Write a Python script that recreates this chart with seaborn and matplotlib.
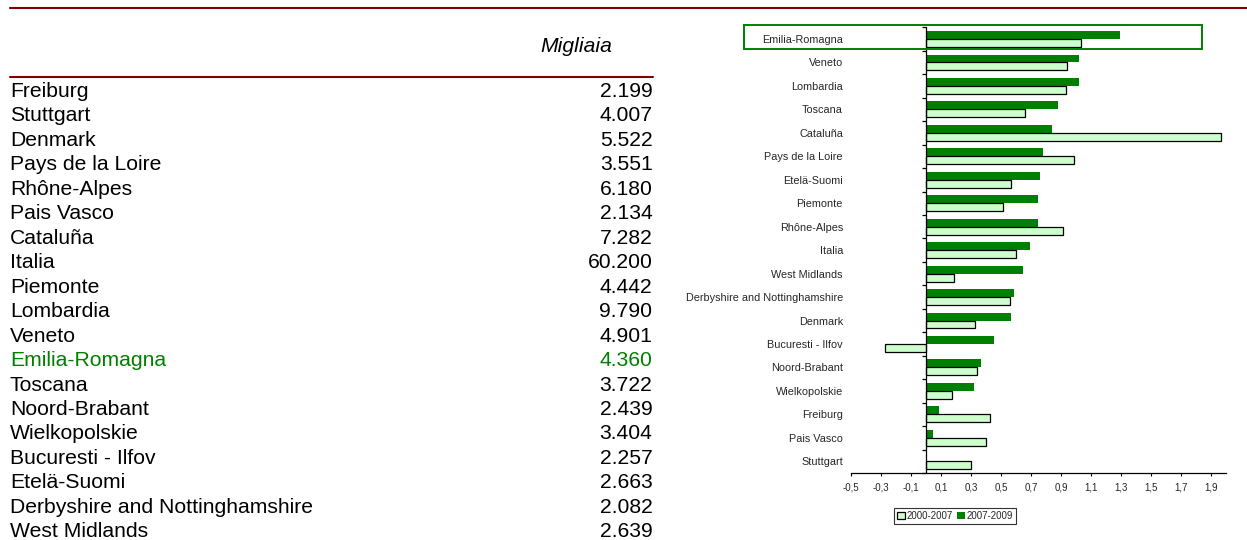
import numpy as np
import pandas as pd
import matplotlib
matplotlib.use("Agg")
import matplotlib.pyplot as plt
from matplotlib import transforms
from matplotlib.lines import Line2D
from matplotlib.patches import Rectangle
import seaborn as sns

# ---- table: population (thousands) ----
table_regions = [
    "Freiburg", "Stuttgart", "Denmark", "Pays de la Loire", "Rhône-Alpes",
    "Pais Vasco", "Cataluña", "Italia", "Piemonte", "Lombardia", "Veneto",
    "Emilia-Romagna", "Toscana", "Noord-Brabant", "Wielkopolskie",
    "Bucuresti - Ilfov", "Etelä-Suomi", "Derbyshire and Nottinghamshire",
    "West Midlands",
]
table_values = [2199, 4007, 5522, 3551, 6180, 2134, 7282, 60200, 4442, 9790,
                4901, 4360, 3722, 2439, 3404, 2257, 2663, 2082, 2639]
table_header = "Migliaia"
highlight = "Emilia-Romagna"

# ---- bar chart: average annual growth ----
chart_regions = [
    "Emilia-Romagna", "Veneto", "Lombardia", "Toscana", "Cataluña",
    "Pays de la Loire", "Etelä-Suomi", "Piemonte", "Rhône-Alpes", "Italia",
    "West Midlands", "Derbyshire and Nottinghamshire", "Denmark",
    "Bucuresti - Ilfov", "Noord-Brabant", "Wielkopolskie", "Freiburg",
    "Pais Vasco", "Stuttgart",
]
growth_2007_2009 = [1.29, 1.02, 1.02, 0.88, 0.84, 0.78, 0.76, 0.745, 0.745,
                    0.695, 0.65, 0.585, 0.57, 0.455, 0.365, 0.32, 0.09, 0.05, 0.01]
growth_2000_2007 = [1.03, 0.94, 0.935, 0.66, 1.965, 0.985, 0.57, 0.515, 0.915,
                    0.60, 0.185, 0.56, 0.325, -0.27, 0.34, 0.175, 0.43, 0.40, 0.30]
period_labels = ["2000-2007", "2007-2009"]
x_ticks = [-0.5, -0.3, -0.1, 0.1, 0.3, 0.5, 0.7, 0.9, 1.1, 1.3, 1.5, 1.7, 1.9]

LIGHT = "#ccffcc"
DARK = "#008000"
MAROON = "#800000"

sns.set_style("white")
plt.rcParams["font.family"] = ["Liberation Sans", "DejaVu Sans"]

W, H = 1247, 540
fig = plt.figure(figsize=(W / 100, H / 100), dpi=100)

# ---------------- table on the left ----------------
ax_t = fig.add_axes([0, 0, 0.55, 1])
ax_t.set_axis_off()
row0_px, row_step = 91.5, 24.46
ax_t.set_ylim((H - row0_px) / row_step, -row0_px / row_step)
ax_t.set_xlim(0, 1)
blend = transforms.blended_transform_factory(fig.transFigure, ax_t.transData)

for i, (name, val) in enumerate(zip(table_regions, table_values)):
    col = DARK if name == highlight else "black"
    txt = f"{val:,}".replace(",", ".")
    ax_t.text(10 / W, i, name, transform=blend, ha="left", va="center",
              fontsize=15.2, color=col)
    ax_t.text(652.5 / W, i, txt, transform=blend, ha="right", va="center",
              fontsize=15.2, color=col)

fig.text(612.7 / W, 1 - 46 / H, table_header, ha="right", va="center",
         fontsize=15.2, style="italic", color="black")

fig.add_artist(Line2D([10 / W, 1], [1 - 7.5 / H] * 2, color=MAROON, lw=1.5,
                      transform=fig.transFigure))
fig.add_artist(Line2D([10 / W, 653 / W], [1 - 76.7 / H] * 2, color=MAROON,
                      lw=1.5, transform=fig.transFigure))

# ---------------- bar chart on the right ----------------
left_px, right_px, top_px, bottom_px = 851, 1226, 27.3, 473
ax = fig.add_axes([left_px / W, 1 - bottom_px / H,
                   (right_px - left_px) / W, (bottom_px - top_px) / H])

df = pd.DataFrame({
    "region": chart_regions * 2,
    "growth": growth_2007_2009 + growth_2000_2007,
    "period": [period_labels[1]] * len(chart_regions)
              + [period_labels[0]] * len(chart_regions),
})

sns.barplot(data=df, y="region", x="growth", hue="period",
            hue_order=[period_labels[1], period_labels[0]],
            order=chart_regions, palette=[DARK, LIGHT], saturation=1,
            width=0.68, orient="h", ax=ax, legend=False, linewidth=0)

for bar in ax.containers[1]:
    bar.set_edgecolor("black")
    bar.set_linewidth(0.9)

n = len(chart_regions)
ax.set_xlim(-0.5, 2.0)
ax.set_ylim(n - 0.5, -0.5)
ax.set_xlabel("")
ax.set_ylabel("")

# zero line with small category separators
ax.axvline(0, color="black", lw=0.9, zorder=3)
ax.hlines(np.arange(n + 1) - 0.5, -0.027, 0, color="black", lw=0.9,
          zorder=3, clip_on=False)

for side in ["top", "right", "left"]:
    ax.spines[side].set_visible(False)
ax.spines["bottom"].set_color("black")
ax.spines["bottom"].set_linewidth(0.9)

ax.set_xticks(x_ticks)
ax.set_xticklabels([f"{t:.1f}".replace(".", ",") for t in x_ticks])
ax.tick_params(axis="x", direction="out", length=2.5, width=0.8,
               color="black", labelsize=7, pad=4.5, bottom=True)
ax.tick_params(axis="y", length=0, labelsize=7.8, pad=5.8)

# highlight frame around the first region
ax.add_patch(Rectangle((-1.213, -0.6), 1.84 + 1.213, 1.03, fill=False,
                       edgecolor=DARK, lw=1.4, clip_on=False, zorder=4))

leg = ax.legend(handles=[ax.containers[1], ax.containers[0]],
                labels=period_labels, loc="center",
                bbox_to_anchor=(0.277, -0.0966), ncol=2, fontsize=7,
                frameon=True, fancybox=False, edgecolor="black",
                handlelength=0.8, handleheight=0.8, handletextpad=0.15,
                columnspacing=0.5, borderpad=0.3, borderaxespad=0)
leg.get_frame().set_linewidth(0.8)

fig.savefig("out.png", dpi=100)
